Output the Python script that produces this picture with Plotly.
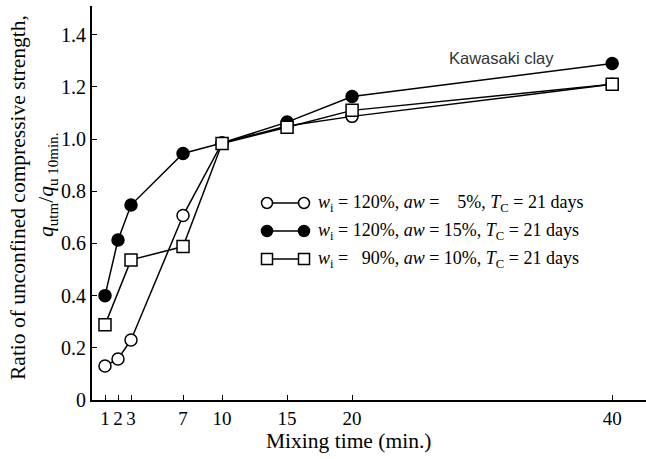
import plotly.graph_objects as go

# Data
mix_time = [1, 2, 3, 7, 10, 15, 20, 40]
sq_time = [1, 3, 7, 10, 15, 20, 40]
open_circle = [0.13, 0.157, 0.23, 0.707, 0.985, 1.05, 1.087, 1.21]
filled_circle = [0.40, 0.613, 0.747, 0.945, 0.985, 1.065, 1.163, 1.29]
open_square = [0.288, 0.537, 0.588, 0.983, 1.045, 1.11, 1.21]

x_ticks = [1, 2, 3, 7, 10, 15, 20, 40]
y_ticks = [0, 0.2, 0.4, 0.6, 0.8, 1.0, 1.2, 1.4]
y_ticktext = ["0", "0.2", "0.4", "0.6", "0.8", "1.0", "1.2", "1.4"]

legend_labels = [
    "<i>w</i><sub>i</sub> = 120%, <i>aw</i> = \u00a0\u00a0 5%, <i>T</i><sub>C</sub> = 21 days",
    "<i>w</i><sub>i</sub> = 120%, <i>aw</i> = 15%, <i>T</i><sub>C</sub> = 21 days",
    "<i>w</i><sub>i</sub> = \u00a0\u00a090%, <i>aw</i> = 10%, <i>T</i><sub>C</sub> = 21 days",
]

FONT = "Liberation Serif"
LW = 1.5
MS = 12

fig = go.Figure()
fig.add_trace(go.Scatter(x=mix_time, y=open_circle, mode="lines+markers",
                         line=dict(color="black", width=LW),
                         marker=dict(symbol="circle", size=MS, color="white",
                                     line=dict(color="black", width=LW)),
                         showlegend=False))
fig.add_trace(go.Scatter(x=mix_time, y=filled_circle, mode="lines+markers",
                         line=dict(color="black", width=LW),
                         marker=dict(symbol="circle", size=MS, color="black",
                                     line=dict(color="black", width=LW)),
                         showlegend=False))
fig.add_trace(go.Scatter(x=sq_time, y=open_square, mode="lines+markers",
                         line=dict(color="black", width=LW),
                         marker=dict(symbol="square", size=MS, color="white",
                                     line=dict(color="black", width=LW)),
                         showlegend=False))

W, H = 646, 459
ml, mr, mt, mb = 92, 0, 6, 59
pw, ph = W - ml - mr, H - mt - mb

def px(xp):
    return (xp - ml) / pw

def py(yp):
    return (H - mb - yp) / ph

shapes = []
annotations = []
# custom legend
rows_y = [203, 231, 259]
kinds = [("circle", "white"), ("circle", "black"), ("rect", "white")]
for yy, (kind, fill), lab in zip(rows_y, kinds, legend_labels):
    shapes.append(dict(type="line", xref="paper", yref="paper",
                       x0=px(267), x1=px(304), y0=py(yy), y1=py(yy),
                       line=dict(color="black", width=LW)))
    for cx in (267, 304):
        r = 5.5
        shapes.append(dict(type=kind, xref="paper", yref="paper",
                           x0=px(cx - r), x1=px(cx + r), y0=py(yy + r), y1=py(yy - r),
                           fillcolor=fill, line=dict(color="black", width=LW)))
    annotations.append(dict(text=lab, xref="paper", yref="paper",
                            x=px(316), y=py(yy), xanchor="left", yanchor="middle",
                            showarrow=False, font=dict(family=FONT, size=18, color="black")))

annotations.append(dict(text="Kawasaki clay", xref="paper", yref="paper",
                        x=px(501), y=py(58), xanchor="center", yanchor="middle",
                        showarrow=False, font=dict(family="Liberation Sans", size=16.5, color="#333333")))
annotations.append(dict(text="Mixing time (min.)", xref="paper", yref="paper",
                        x=px(348), y=py(441), xanchor="center", yanchor="middle",
                        showarrow=False, font=dict(family=FONT, size=21.5, color="black")))
annotations.append(dict(text="Ratio of unconfined compressive strength,", xref="paper", yref="paper",
                        x=px(18), y=py(198), xanchor="center", yanchor="middle", textangle=-90,
                        showarrow=False, font=dict(family=FONT, size=21.5, color="black")))
annotations.append(dict(text="<i>q</i><sub>utm</sub>/<i>q</i><sub>u 10min.</sub>", xref="paper", yref="paper",
                        x=px(47), y=py(185), xanchor="center", yanchor="middle", textangle=-90,
                        showarrow=False, font=dict(family=FONT, size=21.5, color="black")))

fig.update_layout(
    width=W, height=H,
    margin=dict(l=ml, r=mr, t=mt, b=mb),
    paper_bgcolor="white", plot_bgcolor="white",
    font=dict(family=FONT, size=18, color="black"),
    shapes=shapes, annotations=annotations,
    showlegend=False,
)
fig.update_xaxes(range=[0, 42.6], tickvals=x_ticks, ticktext=[str(v) for v in x_ticks],
                 ticks="inside", ticklen=5, tickwidth=1, tickcolor="black",
                 showline=True, linecolor="black", linewidth=1.8, showgrid=False,
                 zeroline=False, tickfont=dict(family=FONT, size=19))
fig.update_yaxes(range=[0, 1.51], tickvals=y_ticks, ticktext=y_ticktext,
                 ticks="inside", ticklen=5, tickwidth=1, tickcolor="black",
                 showline=True, linecolor="black", linewidth=1.8, showgrid=False,
                 zeroline=False, tickfont=dict(family=FONT, size=20))

fig.write_html("out.html", config={"displayModeBar": False},
               post_script="document.body.style.margin='0';")
